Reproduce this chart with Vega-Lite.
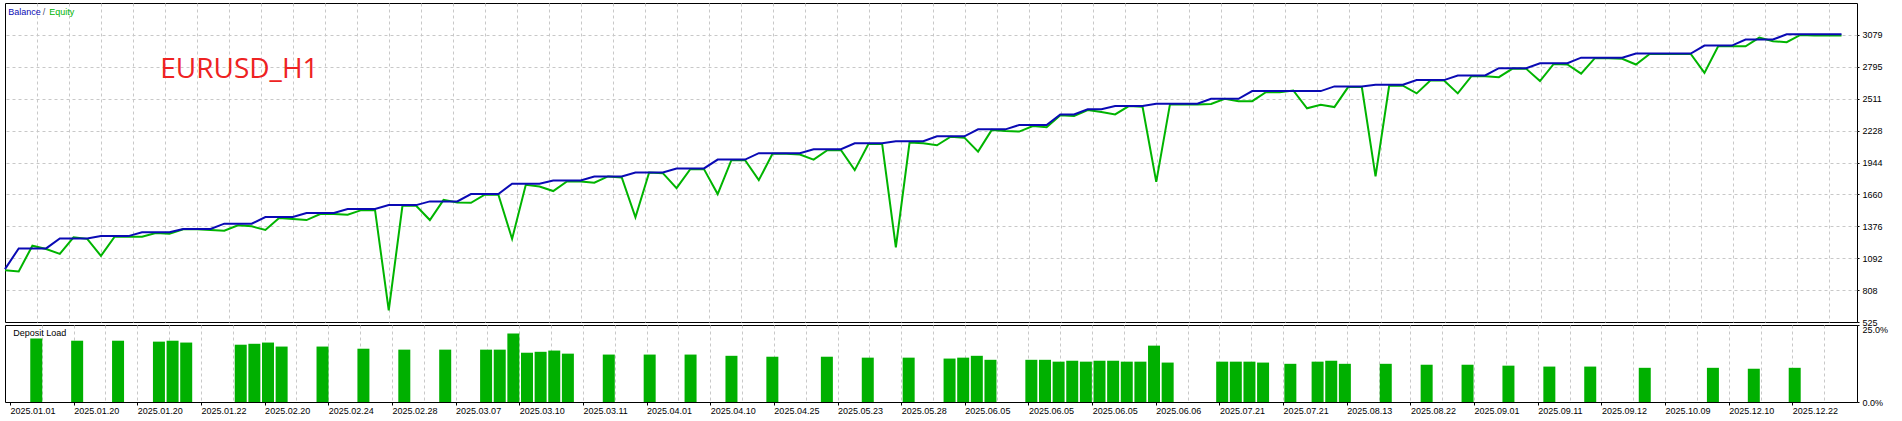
{
  "$schema": "https://vega.github.io/schema/vega-lite/v6.json",
  "padding": {"left": 0, "top": 2, "right": 0, "bottom": 0},
  "background": "white",
  "bounds": "flush",
  "spacing": 3,
  "config": {
    "view": {"stroke": "#000000", "strokeWidth": 1, "fill": "white"},
    "axis": {"labelFont": "Liberation Sans", "labelFontSize": 9, "labelColor": "#000000", "gridColor": "#c8c8c8", "gridDash": [3, 3], "gridWidth": 1, "tickColor": "#000000", "domain": false, "title": null}
  },
  "datasets": {
    "eq": [
      {"i":0,"balance":995,"equity":985},{"i":1,"balance":1180,"equity":975},{"i":2,"balance":1180,"equity":1204},{"i":3,"balance":1180,"equity":1175},
      {"i":4,"balance":1268,"equity":1131},{"i":5,"balance":1268,"equity":1279},{"i":6,"balance":1268,"equity":1265},{"i":7,"balance":1289,"equity":1113},
      {"i":8,"balance":1289,"equity":1284},{"i":9,"balance":1289,"equity":1284},{"i":10,"balance":1324,"equity":1284},{"i":11,"balance":1324,"equity":1317},
      {"i":12,"balance":1324,"equity":1311},{"i":13,"balance":1352,"equity":1350},{"i":14,"balance":1352,"equity":1350},{"i":15,"balance":1352,"equity":1344},
      {"i":16,"balance":1400,"equity":1337},{"i":17,"balance":1400,"equity":1386},{"i":18,"balance":1400,"equity":1376},{"i":19,"balance":1459,"equity":1344},
      {"i":20,"balance":1459,"equity":1450},{"i":21,"balance":1459,"equity":1441},{"i":22,"balance":1494,"equity":1432},{"i":23,"balance":1494,"equity":1485},
      {"i":24,"balance":1494,"equity":1485},{"i":25,"balance":1530,"equity":1479},{"i":26,"balance":1530,"equity":1520},{"i":27,"balance":1530,"equity":1520},
      {"i":28,"balance":1565,"equity":628},{"i":29,"balance":1565,"equity":1559},{"i":30,"balance":1565,"equity":1559},{"i":31,"balance":1598,"equity":1432},
      {"i":32,"balance":1598,"equity":1612},{"i":33,"balance":1598,"equity":1589},{"i":34,"balance":1663,"equity":1586},{"i":35,"balance":1663,"equity":1657},
      {"i":36,"balance":1663,"equity":1657},{"i":37,"balance":1755,"equity":1264},{"i":38,"balance":1755,"equity":1746},{"i":39,"balance":1755,"equity":1731},
      {"i":40,"balance":1784,"equity":1690},{"i":41,"balance":1784,"equity":1775},{"i":42,"balance":1784,"equity":1775},{"i":43,"balance":1820,"equity":1764},
      {"i":44,"balance":1820,"equity":1820},{"i":45,"balance":1820,"equity":1811},{"i":46,"balance":1855,"equity":1456},{"i":47,"balance":1855,"equity":1855},
      {"i":48,"balance":1855,"equity":1849},{"i":49,"balance":1891,"equity":1716},{"i":50,"balance":1891,"equity":1885},{"i":51,"balance":1891,"equity":1885},
      {"i":52,"balance":1970,"equity":1663},{"i":53,"balance":1970,"equity":1965},{"i":54,"balance":1970,"equity":1965},{"i":55,"balance":2027,"equity":1787},
      {"i":56,"balance":2027,"equity":2021},{"i":57,"balance":2027,"equity":2021},{"i":58,"balance":2027,"equity":2015},{"i":59,"balance":2062,"equity":1970},
      {"i":60,"balance":2062,"equity":2053},{"i":61,"balance":2062,"equity":2053},{"i":62,"balance":2115,"equity":1876},{"i":63,"balance":2115,"equity":2109},
      {"i":64,"balance":2115,"equity":2109},{"i":65,"balance":2133,"equity":1190},{"i":66,"balance":2133,"equity":2121},{"i":67,"balance":2133,"equity":2115},
      {"i":68,"balance":2177,"equity":2097},{"i":69,"balance":2177,"equity":2174},{"i":70,"balance":2177,"equity":2165},{"i":71,"balance":2239,"equity":2041},
      {"i":72,"balance":2239,"equity":2234},{"i":73,"balance":2239,"equity":2225},{"i":74,"balance":2278,"equity":2219},{"i":75,"balance":2278,"equity":2269},
      {"i":76,"balance":2278,"equity":2257},{"i":77,"balance":2372,"equity":2364},{"i":78,"balance":2372,"equity":2358},{"i":79,"balance":2417,"equity":2411},
      {"i":80,"balance":2417,"equity":2393},{"i":81,"balance":2446,"equity":2372},{"i":82,"balance":2446,"equity":2446},{"i":83,"balance":2446,"equity":2440},
      {"i":84,"balance":2467,"equity":1772},{"i":85,"balance":2467,"equity":2461},{"i":86,"balance":2467,"equity":2461},{"i":87,"balance":2467,"equity":2461},
      {"i":88,"balance":2511,"equity":2464},{"i":89,"balance":2511,"equity":2511},{"i":90,"balance":2511,"equity":2490},{"i":91,"balance":2579,"equity":2490},
      {"i":92,"balance":2579,"equity":2570},{"i":93,"balance":2579,"equity":2570},{"i":94,"balance":2579,"equity":2585},{"i":95,"balance":2579,"equity":2426},
      {"i":96,"balance":2579,"equity":2458},{"i":97,"balance":2621,"equity":2437},{"i":98,"balance":2621,"equity":2615},{"i":99,"balance":2621,"equity":2615},
      {"i":100,"balance":2636,"equity":1820},{"i":101,"balance":2636,"equity":2630},{"i":102,"balance":2636,"equity":2627},{"i":103,"balance":2677,"equity":2559},
      {"i":104,"balance":2677,"equity":2674},{"i":105,"balance":2677,"equity":2674},{"i":106,"balance":2718,"equity":2559},{"i":107,"balance":2718,"equity":2712},
      {"i":108,"balance":2718,"equity":2712},{"i":109,"balance":2783,"equity":2703},{"i":110,"balance":2783,"equity":2780},{"i":111,"balance":2783,"equity":2777},
      {"i":112,"balance":2827,"equity":2668},{"i":113,"balance":2827,"equity":2821},{"i":114,"balance":2827,"equity":2816},{"i":115,"balance":2877,"equity":2735},
      {"i":116,"balance":2877,"equity":2872},{"i":117,"balance":2877,"equity":2872},{"i":118,"balance":2877,"equity":2866},{"i":119,"balance":2913,"equity":2816},
      {"i":120,"balance":2913,"equity":2910},{"i":121,"balance":2913,"equity":2910},{"i":122,"balance":2913,"equity":2910},{"i":123,"balance":2913,"equity":2910},
      {"i":124,"balance":2984,"equity":2741},{"i":125,"balance":2984,"equity":2978},{"i":126,"balance":2984,"equity":2978},{"i":127,"balance":3038,"equity":2978},
      {"i":128,"balance":3038,"equity":3055},{"i":129,"balance":3038,"equity":3023},{"i":130,"balance":3085,"equity":3014},{"i":131,"balance":3085,"equity":3079},
      {"i":132,"balance":3085,"equity":3073},{"i":133,"balance":3085,"equity":3073},{"i":134,"balance":3085,"equity":3073}
    ],
    "dl": [
      {"i":2,"load":20.6},{"i":5,"load":19.9},{"i":8,"load":19.9},{"i":11,"load":19.6},{"i":12,"load":19.9},{"i":13,"load":19.3},
      {"i":17,"load":18.6},{"i":18,"load":18.9},{"i":19,"load":19.3},{"i":20,"load":18.0},{"i":23,"load":18.0},{"i":26,"load":17.3},
      {"i":29,"load":17.0},{"i":32,"load":17.0},{"i":35,"load":17.0},{"i":36,"load":17.0},{"i":37,"load":22.2},{"i":38,"load":16.0},
      {"i":39,"load":16.3},{"i":40,"load":16.7},{"i":41,"load":15.7},{"i":44,"load":15.4},{"i":47,"load":15.4},{"i":50,"load":15.4},
      {"i":53,"load":15.0},{"i":56,"load":14.7},{"i":60,"load":14.7},{"i":63,"load":14.4},{"i":66,"load":14.4},{"i":69,"load":14.1},
      {"i":70,"load":14.4},{"i":71,"load":15.0},{"i":72,"load":13.7},{"i":75,"load":13.7},{"i":76,"load":13.7},{"i":77,"load":13.1},
      {"i":78,"load":13.4},{"i":79,"load":13.1},{"i":80,"load":13.4},{"i":81,"load":13.4},{"i":82,"load":13.1},{"i":83,"load":13.1},
      {"i":84,"load":18.3},{"i":85,"load":12.8},{"i":89,"load":13.1},{"i":90,"load":13.1},{"i":91,"load":13.1},{"i":92,"load":12.8},
      {"i":94,"load":12.4},{"i":96,"load":13.1},{"i":97,"load":13.4},{"i":98,"load":12.4},{"i":101,"load":12.4},{"i":104,"load":12.1},
      {"i":107,"load":12.1},{"i":110,"load":11.8},{"i":113,"load":11.5},{"i":116,"load":11.5},{"i":120,"load":11.1},{"i":125,"load":11.1},
      {"i":128,"load":10.8},{"i":131,"load":11.1}
    ]
  },
  "vconcat": [
    {
      "width": 1852,
      "height": 319,
      "encoding": {
        "x": {"type": "quantitative", "scale": {"domain": [0, 135.13], "nice": false, "zero": false},
              "axis": {"values": [0,2.3349,4.6698,7.0047,9.3396,11.6746,14.0095,16.3444,18.6793,21.0142,23.3491,25.684,28.0189,30.3538,32.6887,35.0237,37.3586,39.6935,42.0284,44.3633,46.6982,49.0331,51.368,53.7029,56.0378,58.3728,60.7077,63.0426,65.3775,67.7124,70.0473,72.3822,74.7171,77.052,79.3869,81.7219,84.0568,86.3917,88.7266,91.0615,93.3964,95.7313,98.0662,100.4011,102.736,105.071,107.4059,109.7408,112.0757,114.4106,116.7455,119.0804,121.4153,123.7502,126.0851,128.4201,130.755,133.0899],
                       "grid": true, "labels": false, "ticks": false, "domain": false, "title": null,
                       "gridOpacity": {"condition": {"test": "datum.value < 0.5", "value": 0}, "value": 1}}},
        "y": {"type": "quantitative", "scale": {"domain": [525, 3363], "nice": false, "zero": false},
              "axis": {"orient": "right", "values": [525,808,1092,1376,1660,1944,2228,2511,2795,3079], "format": "d", "grid": true, "tickSize": 2, "labelPadding": 3, "labelBaseline": "middle", "title": null,
                       "gridOpacity": {"condition": {"test": "datum.value < 600", "value": 0}, "value": 1}}}
      },
      "layer": [
        {
          "data": {"name": "eq"},
          "mark": {"type": "line", "color": "#00b400", "strokeWidth": 2},
          "encoding": {"x": {"field": "i"}, "y": {"field": "equity"}}
        },
        {
          "data": {"name": "eq"},
          "mark": {"type": "line", "color": "#0a0ab4", "strokeWidth": 2},
          "encoding": {"x": {"field": "i"}, "y": {"field": "balance"}}
        },
        {
          "data": {"values": [{}]},
          "mark": {"type": "text", "text": "Balance", "align": "left", "baseline": "middle", "font": "Liberation Sans", "fontSize": 9, "color": "#0a0ab4"},
          "encoding": {"x": {"datum": 0.24}, "y": {"datum": 3283}}
        },
        {
          "data": {"values": [{}]},
          "mark": {"type": "text", "text": "/", "align": "left", "baseline": "middle", "font": "Liberation Sans", "fontSize": 9, "color": "#505070"},
          "encoding": {"x": {"datum": 2.75}, "y": {"datum": 3283}}
        },
        {
          "data": {"values": [{}]},
          "mark": {"type": "text", "text": "Equity", "align": "left", "baseline": "middle", "font": "Liberation Sans", "fontSize": 9, "color": "#00b400"},
          "encoding": {"x": {"datum": 3.23}, "y": {"datum": 3283}}
        },
        {
          "data": {"values": [{}]},
          "mark": {"type": "text", "text": "EURUSD_H1", "align": "left", "baseline": "alphabetic", "font": "Open Sans", "fontSize": 28, "color": "#ee2222"},
          "encoding": {"x": {"datum": 11.33}, "y": {"datum": 2693}}
        }
      ]
    },
    {
      "width": 1852,
      "height": 77,
      "encoding": {
        "x": {"type": "quantitative", "scale": {"domain": [0, 135.13], "nice": false, "zero": false},
              "axis": {"values": [0,2.3349,4.6698,7.0047,9.3396,11.6746,14.0095,16.3444,18.6793,21.0142,23.3491,25.684,28.0189,30.3538,32.6887,35.0237,37.3586,39.6935,42.0284,44.3633,46.6982,49.0331,51.368,53.7029,56.0378,58.3728,60.7077,63.0426,65.3775,67.7124,70.0473,72.3822,74.7171,77.052,79.3869,81.7219,84.0568,86.3917,88.7266,91.0615,93.3964,95.7313,98.0662,100.4011,102.736,105.071,107.4059,109.7408,112.0757,114.4106,116.7455,119.0804,121.4153,123.7502,126.0851,128.4201,130.755,133.0899],
                       "grid": true, "domain": false, "title": null,
                       "gridOpacity": {"condition": {"test": "datum.value < 0.5", "value": 0}, "value": 1},
                       "labelExpr": "round(datum.value / 2.33491) % 2 == 0 ? ['2025.01.01','2025.01.20','2025.01.20','2025.01.22','2025.02.20','2025.02.24','2025.02.28','2025.03.07','2025.03.10','2025.03.11','2025.04.01','2025.04.10','2025.04.25','2025.05.23','2025.05.28','2025.06.05','2025.06.05','2025.06.05','2025.06.06','2025.07.21','2025.07.21','2025.08.13','2025.08.22','2025.09.01','2025.09.11','2025.09.12','2025.10.09','2025.12.10','2025.12.22'][round(datum.value / 4.66982)] : ''",
                       "labelAlign": "left", "labelBaseline": "top", "labelOverlap": false, "labelFlush": false, "labelBound": false,
                       "tickSize": 3, "labelPadding": 1,
                       "tickColor": {"condition": {"test": "round(datum.value / 2.33491) % 2 == 1", "value": "transparent"}, "value": "#000000"}}},
        "y": {"type": "quantitative", "scale": {"domain": [0, 25], "nice": false, "zero": true},
              "axis": {"orient": "right", "values": [0, 25], "grid": false, "tickSize": 2, "labelPadding": 3, "title": null,
                       "labelExpr": "format(datum.value, '.1f') + '%'",
                       "labelBaseline": {"condition": {"test": "datum.value > 10", "value": "top"}, "value": "middle"}}}
      },
      "layer": [
        {
          "data": {"name": "dl"},
          "mark": {"type": "bar", "orient": "vertical", "width": 12, "xOffset": -1, "color": "#00b000"},
          "encoding": {"x": {"field": "i"}, "y": {"field": "load"}}
        },
        {
          "data": {"values": [{}]},
          "mark": {"type": "text", "text": "Deposit Load", "align": "left", "baseline": "middle", "font": "Liberation Sans", "fontSize": 9, "color": "#000000"},
          "encoding": {"x": {"datum": 0.24}, "y": {"datum": 22.5}}
        }
      ]
    }
  ]
}
